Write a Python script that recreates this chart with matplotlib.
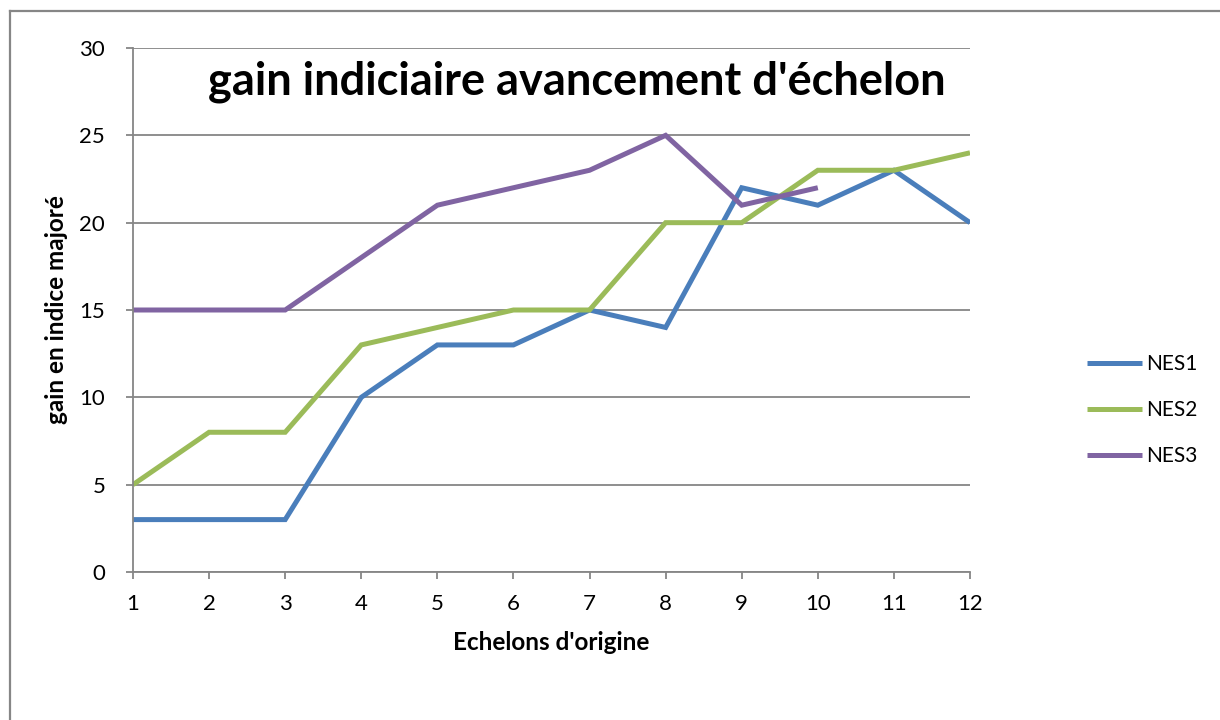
import matplotlib
matplotlib.use("Agg")
import matplotlib.pyplot as plt
from matplotlib.lines import Line2D

plt.rcParams['font.family'] = ['Lato', 'DejaVu Sans']

echelons = list(range(1, 13))
nes1 = [3, 3, 3, 10, 13, 13, 15, 14, 22, 21, 23, 20]
nes2 = [5, 8, 8, 13, 14, 15, 15, 20, 20, 23, 23, 24]
nes3 = [15, 15, 15, 18, 21, 22, 23, 25, 21, 22]
series_names = ["NES1", "NES2", "NES3"]
colors = ["#4A7EBB", "#9BBB59", "#8064A2"]
yticks = [0, 5, 10, 15, 20, 25, 30]

W, H = 1220, 720
fig = plt.figure(figsize=(12.2, 7.2), dpi=100)
ax = fig.add_axes([133 / W, 1 - 572 / H, (970 - 133) / W, (572 - 48) / H])

grid_c = "#868686"
for name, data, c in zip(series_names, [nes1, nes2, nes3], colors):
    ax.plot(echelons[:len(data)], data, color=c, lw=3.6, label=name,
            solid_joinstyle='miter', solid_capstyle='butt')

ax.set_xlim(1, 12)
ax.set_ylim(0, 30)
ax.set_xticks(echelons)
ax.set_yticks(yticks)
ax.yaxis.grid(True, color=grid_c, lw=1.3)
ax.set_axisbelow(True)
for s in ['top', 'right']:
    ax.spines[s].set_visible(False)
for s in ['left', 'bottom']:
    ax.spines[s].set_color(grid_c)
    ax.spines[s].set_linewidth(1.3)
ax.tick_params(axis='both', colors=grid_c, labelcolor='black', length=5,
               width=1.3, labelsize=16)
ax.tick_params(axis='x', pad=11)
ax.tick_params(axis='y', pad=15)

ax.set_xlabel("Echelons d'origine", fontsize=17.5, fontweight='bold', labelpad=12)
ax.set_ylabel("gain en indice majoré", fontsize=17.5, fontweight='bold', labelpad=8)

fig.text(577 / W, 1 - 82 / H, "gain indiciaire avancement d'échelon",
         fontsize=32.5, fontweight='bold', ha='center', va='center')

leg = ax.legend(loc='center left', bbox_to_anchor=(1068 / W, 1 - 410 / H),
                bbox_transform=fig.transFigure, frameon=False, fontsize=15,
                handlelength=2.65, handletextpad=0.2, labelspacing=1.25)

fig.add_artist(Line2D([10 / W, 10 / W], [0, 1 - 11 / H], color=grid_c, lw=1.6,
                      transform=fig.transFigure))
fig.add_artist(Line2D([10 / W, 1], [1 - 11 / H, 1 - 11 / H], color=grid_c, lw=1.6,
                      transform=fig.transFigure))

fig.savefig("out.png", dpi=100)
